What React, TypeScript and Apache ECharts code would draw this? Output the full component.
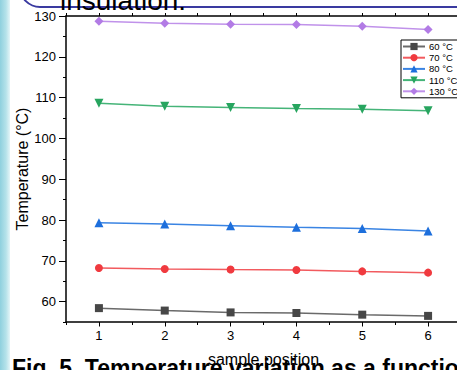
import React, { useEffect, useRef } from 'react';
import * as echarts from 'echarts';

const positions = [1, 2, 3, 4, 5, 6];
const seriesNames = ['60 °C', '70 °C', '80 °C', '110 °C', '130 °C'];
const t60 = [58.4, 57.8, 57.35, 57.2, 56.8, 56.5];
const t70 = [68.25, 68.0, 67.85, 67.75, 67.4, 67.1];
const t80 = [79.3, 79.0, 78.6, 78.2, 77.9, 77.3];
const t110 = [108.6, 107.9, 107.6, 107.3, 107.15, 106.8];
const t130 = [128.7, 128.2, 128.0, 127.9, 127.5, 126.7];
const xMajorTicks = [1, 2, 3, 4, 5, 6];
const yMajorTicks = [60, 70, 80, 90, 100, 110, 120, 130];

const FONT = '"Liberation Sans", Arial, sans-serif';

export default function App() {
  const ref = useRef<HTMLDivElement>(null);
  useEffect(() => {
    const chart = echarts.init(ref.current!, null, { renderer: 'svg' });
    const mk = (
      name: string,
      vals: number[],
      color: string,
      lineColor: string,
      symbol: string,
      size: number
    ) => ({
      name,
      type: 'line',
      xAxisIndex: 0,
      yAxisIndex: 0,
      data: positions.map((p, i) => [p, vals[i]]),
      symbol,
      symbolSize: size,
      showAllSymbol: true,
      itemStyle: { color },
      lineStyle: { color: lineColor, width: 1.5 },
      z: 3,
    });
    const axisLine = { show: true, lineStyle: { color: '#000', width: 1.5 } };
    chart.setOption({
      animation: false,
      backgroundColor: '#fff',
      textStyle: { fontFamily: FONT },
      grid: {
        left: 66,
        top: 16,
        bottom: 48,
        right: -4,
        containLabel: false,
        outerBoundsMode: 'none',
      },
      legend: {
        orient: 'vertical',
        left: 401,
        top: 40,
        data: seriesNames,
        itemWidth: 22,
        itemHeight: 9,
        itemGap: 1.2,
        padding: [1.5, 3, 1.5, 1],
        borderColor: '#000',
        borderWidth: 1,
        backgroundColor: '#fff',
        textStyle: {
          fontSize: 9.5,
          lineHeight: 9,
          color: '#000',
          fontFamily: FONT,
          padding: [0, 0, 0, -1],
        },
      },
      xAxis: [
        {
          type: 'value',
          position: 'bottom',
          min: 0.5,
          max: 6.5,
          interval: 0.5,
          axisLine,
          splitLine: { show: false },
          axisTick: { show: true, inside: false, length: 3, lineStyle: { color: '#000', width: 1 } },
          axisLabel: {
            fontSize: 13,
            color: '#000',
            margin: 7,
            fontFamily: FONT,
            formatter: (v: number) => (Number.isInteger(v) && v >= 1 && v <= 6 ? String(v) : ''),
          },
          name: 'sample position',
          nameLocation: 'middle',
          nameGap: 29,
          nameMoveOverlap: false,
          nameTextStyle: { fontSize: 16, color: '#000', fontFamily: FONT },
        },
        {
          type: 'value',
          position: 'bottom',
          min: 0.5,
          max: 6.5,
          axisLine: { show: false },
          splitLine: { show: false },
          axisTick: { show: true, length: 4.5, customValues: xMajorTicks, lineStyle: { color: '#000', width: 1 } },
          axisLabel: { show: false },
        },
        {
          type: 'value',
          position: 'top',
          min: 0.5,
          max: 6.5,
          interval: 0.5,
          axisLine,
          splitLine: { show: false },
          axisTick: { show: true, length: 3, lineStyle: { color: '#000', width: 1 } },
          axisLabel: { show: false },
        },
      ],
      yAxis: [
        {
          type: 'value',
          position: 'left',
          min: 55,
          max: 130,
          interval: 5,
          axisLine,
          splitLine: { show: false },
          axisTick: { show: true, length: 3, lineStyle: { color: '#000', width: 1 } },
          axisLabel: {
            fontSize: 13,
            color: '#000',
            margin: 10,
            fontFamily: FONT,
            formatter: (v: number) => (v % 10 === 0 ? String(v) : ''),
          },
          name: 'Temperature (°C)',
          nameLocation: 'middle',
          nameGap: 36,
          nameMoveOverlap: false,
          nameTextStyle: { fontSize: 16, color: '#000', fontFamily: FONT },
        },
        {
          type: 'value',
          position: 'left',
          min: 55,
          max: 130,
          axisLine: { show: false },
          splitLine: { show: false },
          axisTick: { show: true, length: 7, customValues: yMajorTicks, lineStyle: { color: '#000', width: 1 } },
          axisLabel: { show: false },
        },
      ],
      series: [
        mk(seriesNames[0], t60, '#474747', '#6a6a6a', 'rect', 8),
        mk(seriesNames[1], t70, '#f03a3f', '#f25a5e', 'circle', 8),
        mk(seriesNames[2], t80, '#1d6fdc', '#3a84e3', 'triangle', 9),
        mk(seriesNames[3], t110, '#27a55f', '#45b478', 'path://M0,0L10,0L5,9Z', 9),
        mk(seriesNames[4], t130, '#b27be5', '#c092ea', 'diamond', 9),
      ],
      graphic: [
        {
          type: 'rect',
          z: -10,
          silent: true,
          shape: { x: 0, y: 0, width: 10, height: 370 },
          style: {
            fill: new echarts.graphic.LinearGradient(0, 0, 1, 0, [
              { offset: 0, color: '#8fd0de' },
              { offset: 0.6, color: '#b5e2ea' },
              { offset: 1, color: '#e4f5f8' },
            ]),
          },
        },
        {
          type: 'rect',
          z: -5,
          silent: true,
          shape: { x: 20, y: -73, width: 500, height: 80, r: 20 },
          style: { fill: 'none', stroke: '#3a3aa0', lineWidth: 2 },
        },
        {
          type: 'text',
          z: 10,
          silent: true,
          x: 60,
          y: 14,
          style: {
            text: 'insulation.',
            fontSize: 28,
            fontFamily: FONT,
            fill: '#000',
            verticalAlign: 'bottom',
          },
        },
        {
          type: 'text',
          z: 10,
          silent: true,
          x: 12,
          y: 356,
          style: {
            text: 'Fig. 5. Temperature variation as a function',
            fontSize: 23,
            fontWeight: 'bold',
            fontFamily: FONT,
            fill: '#000',
            verticalAlign: 'top',
          },
        },
      ],
    });
    return () => chart.dispose();
  }, []);
  return (
    <div
      ref={ref}
      style={{ position: 'fixed', left: 0, top: 0, width: 457, height: 370, background: '#fff' }}
    />
  );
}
